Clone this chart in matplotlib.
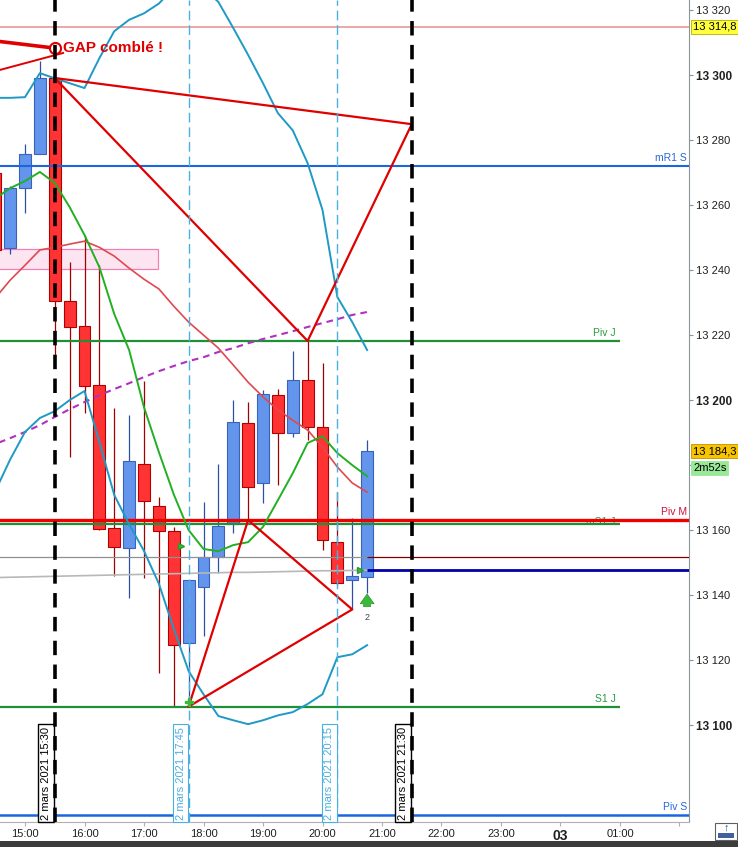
import numpy as np
import matplotlib.pyplot as plt
from matplotlib.patches import Rectangle

plt.rcParams['font.family'] = ['Liberation Sans', 'DejaVu Sans']

# 15 min candles, 2 March 2021
times = ["14:30", "14:45", "15:00", "15:15", "15:30", "15:45", "16:00", "16:15",
         "16:30", "16:45", "17:00", "17:15", "17:30", "17:45", "18:00", "18:15",
         "18:30", "18:45", "19:00", "19:15", "19:30", "19:45", "20:00", "20:15",
         "20:30", "20:45"]
opens = [13269.8, 13246.8, 13265.2, 13275.7, 13299.1, 13230.5, 13222.8, 13204.8,
         13160.5, 13154.4, 13180.2, 13167.5, 13159.6, 13125.4, 13142.4, 13151.6,
         13162.0, 13193.1, 13174.4, 13201.7, 13190.0, 13206.2, 13191.6, 13156.2,
         13144.6, 13145.6]
highs = [13272.0, 13266.0, 13278.8, 13304.3, 13301.0, 13242.5, 13250.8, 13241.5,
         13197.6, 13195.4, 13205.8, 13170.2, 13161.0, 13144.6, 13168.5, 13180.2,
         13200.0, 13199.3, 13203.0, 13203.4, 13215.1, 13218.2, 13211.5, 13171.8,
         13163.6, 13187.7]
lows = [13244.0, 13245.0, 13257.5, 13275.7, 13213.0, 13182.5, 13196.0, 13160.0,
        13145.8, 13139.0, 13145.3, 13116.0, 13105.6, 13105.7, 13127.5, 13146.9,
        13159.0, 13163.1, 13168.4, 13174.0, 13188.5, 13187.7, 13154.0, 13143.0,
        13135.6, 13140.7]
closes = [13246.2, 13265.2, 13275.7, 13299.1, 13230.5, 13222.6, 13204.4, 13160.2,
          13154.9, 13181.4, 13169.1, 13159.6, 13124.8, 13144.6, 13151.6, 13161.4,
          13193.4, 13173.3, 13202.0, 13190.0, 13206.2, 13191.6, 13157.1, 13143.6,
          13145.8, 13184.3]

# indicators, one value per candle
boll_up = [13293.0, 13293.0, 13293.2, 13300.6, 13299.0, 13297.5, 13296.0, 13305.2,
           13313.5, 13317.0, 13319.0, 13322.0, 13326.8, 13329.0, 13326.8, 13322.5,
           13314.5, 13306.2, 13297.5, 13288.3, 13283.0, 13272.9, 13258.5, 13231.7,
           13224.0, 13215.4]
boll_low = [13172.0, 13181.7, 13190.2, 13194.5, 13196.6, 13200.0, 13202.8, 13187.1,
            13170.8, 13161.8, 13153.6, 13143.5, 13129.7, 13116.6, 13109.5, 13102.8,
            13101.5, 13100.3, 13101.5, 13103.0, 13104.0, 13106.5, 13109.5, 13120.9,
            13121.8, 13124.6]
ma_green = [13262.0, 13265.2, 13267.4, 13270.2, 13266.8, 13259.4, 13250.8, 13240.9,
            13226.5, 13215.4, 13197.8, 13184.0, 13171.0, 13160.0, 13154.2, 13153.5,
            13155.4, 13156.3, 13161.0, 13169.2, 13177.5, 13186.8, 13188.9, 13183.7,
            13180.0, 13176.6]
ma_red = [13231.4, 13236.9, 13241.5, 13246.2, 13247.0, 13248.0, 13248.9, 13247.0,
          13244.3, 13240.6, 13237.2, 13234.2, 13228.9, 13224.0, 13220.0, 13216.0,
          13210.8, 13205.5, 13201.0, 13197.0, 13193.8, 13190.8, 13185.5, 13179.4,
          13174.5, 13171.7]
ma_purple = [13186.5, 13188.3, 13190.2, 13192.3, 13194.8, 13197.2, 13199.4, 13201.5,
             13203.4, 13205.2, 13207.1, 13208.9, 13210.5, 13212.0, 13213.2, 13214.8,
             13216.0, 13217.5, 13218.8, 13220.0, 13221.2, 13222.5, 13223.7, 13224.9,
             13226.2, 13227.1]
ma_gray = [13145.4, 13145.5, 13145.6, 13145.7, 13145.8, 13145.9, 13146.0, 13146.1,
           13146.2, 13146.3, 13146.4, 13146.5, 13146.6, 13146.7, 13146.8, 13146.9,
           13147.0, 13147.0, 13147.1, 13147.2, 13147.3, 13147.4, 13147.5, 13147.5,
           13147.6, 13147.7]

# pivot levels
level_names = ["mR1 S", "Piv J", "Piv M", "mS1 J", "S1 J", "Piv S"]
level_values = [13272.0, 13218.2, 13163.1, 13161.8, 13105.5, 13072.3]
level_colors = ["#1a66e0", "#1f9038", "#ee0000", "#1f9038", "#1f9038", "#1a66e0"]
level_text_colors = ["#2a66d8", "#2a9a40", "#d0103a", "#2a9a40", "#2a9a40", "#2a66d8"]
level_ends = [None, "25:00", None, "25:00", "25:00", None]
level_widths = [1.5, 1.6, 2.4, 1.6, 1.6, 1.8]

top_line = 13314.8
last_price = 13184.3
prev_close = 13151.7
entry_price = 13147.7

# harmonic drawing (time, price)
tri1_t = ["15:30", "19:45", "21:30", "15:30"]
tri1_p = [13299.1, 13218.2, 13284.9, 13299.1]
tri2_t = ["17:45", "18:45", "20:30", "17:45"]
tri2_p = [13105.7, 13163.1, 13135.6, 13105.7]

vlines_black = ["15:30", "21:30"]
vlines_blue = ["17:45", "20:15"]

xtick_hours = [15, 16, 17, 18, 19, 20, 21, 22, 23, 24, 25, 26]
xtick_labels = ["15:00", "16:00", "17:00", "18:00", "19:00", "20:00", "21:00",
                "22:00", "23:00", "03", "01:00", ""]
ytick_values = [13100, 13120, 13140, 13160, 13180, 13200, 13220, 13240, 13260,
                13280, 13300, 13320]


def hours(s):
    h, m = s.split(":")
    return int(h) + int(m) / 60


t = np.array([hours(s) for s in times])
o = np.array(opens)
c = np.array(closes)

W, H = 738, 847
fig = plt.figure(figsize=(W / 100, H / 100), dpi=100)
ax = fig.add_axes([0, 25 / H, 689 / W, 822 / H])
ax.set_xlim(14.5798, 26.1597)
ax.set_ylim(13070.2, 13323.1)

# pink zone
ax.add_patch(Rectangle((14.3, 13240.3), hours("17:14") - 14.3, 6.2,
                       facecolor="#fde4f1", edgecolor="#f080b8", lw=0.9, zorder=1))

# candles
up = c >= o
body_w = 0.2
for mask, fc, ec, wc in [(up, "#6495ed", "#3a62b8", "#2a50a8"),
                         (~up, "#ff3333", "#b00000", "#a00000")]:
    ax.vlines(t[mask], np.array(lows)[mask], np.array(highs)[mask], color=wc,
              lw=0.9, zorder=2)
    ax.bar(t[mask], np.abs(c - o)[mask], bottom=np.minimum(o, c)[mask],
           width=body_w, color=fc, edgecolor=ec, lw=0.8, zorder=3)

# horizontal levels
ax.axhline(top_line, color="#e89898", lw=1.2, zorder=4)
for name, val, col, tcol, end, lw in zip(level_names, level_values, level_colors,
                                          level_text_colors, level_ends, level_widths):
    xe = hours(end) if end else 26.2
    dy = -0.7 if name == "mS1 J" else 0.9
    ax.text(xe - 0.07, val + dy, name, color=tcol, fontsize=7.5,
            ha="right", va="bottom", zorder=4)
    ax.hlines(val, 14.0, xe, color=col, lw=lw, zorder=5)

ax.hlines(prev_close, 14.0, t[-1], color="#909090", lw=0.9, zorder=4)
ax.hlines(prev_close, t[-1], 26.2, color="#800000", lw=0.9, zorder=4)
ax.hlines(entry_price, t[-1], 26.2, color="#0000a8", lw=2.0, zorder=5)

# indicators
ax.plot(t, ma_gray, color="#b8b8b8", lw=1.2, zorder=4)
ax.plot(t, ma_purple, color="#b030c0", lw=1.5, ls=(0, (3.2, 2.4)), zorder=5)
ax.plot(t, ma_red, color="#e04850", lw=1.2, zorder=5)
ax.plot(t, ma_green, color="#22b022", lw=1.4, zorder=5)
ax.plot(t, boll_up, color="#1e9ac4", lw=1.4, zorder=5)
ax.plot(t, boll_low, color="#1e9ac4", lw=1.4, zorder=5)

# harmonic triangles
ax.plot([hours(s) for s in tri1_t], tri1_p, color="#e00000", lw=1.6, zorder=6)
ax.plot([hours(s) for s in tri2_t], tri2_p, color="#e00000", lw=1.6, zorder=6)

# gap lines
ax.plot([14.5, 15.5], [13310.5, 13308.3], color="#e00000", lw=2.6, zorder=6)
ax.plot([14.5, 15.64], [13301.2, 13306.8], color="#e00000", lw=1.4, zorder=6)
ax.plot([15.5], [13308.3], marker="o", ms=8, mfc="white", mec="#e00000", mew=1.5,
        zorder=7)
ax.text(15.64, 13308.3, "GAP comblé !", color="#e00000", fontsize=11,
        fontweight="bold", va="center", ha="left", zorder=7)

# vertical markers
xf = ax.get_xaxis_transform()
for s in vlines_black:
    ax.axvline(hours(s), color="black", lw=2.6, ls=(0, (4, 2.6)), zorder=8)
    ax.text(hours(s) - 0.06, 0.003, "2 mars 2021 " + s, rotation=90, transform=xf,
            ha="right", va="bottom", fontsize=8, color="black", zorder=7,
            bbox=dict(boxstyle="square,pad=0.25", fc="white", ec="black", lw=1))
for s in vlines_blue:
    ax.axvline(hours(s), color="#4ab0e0", lw=1.0, ls=(0, (7, 3.5)), zorder=6)
    ax.text(hours(s) - 0.05, 0.003, "2 mars 2021 " + s, rotation=90, transform=xf,
            ha="right", va="bottom", fontsize=8, color="#4ab0e0", zorder=7,
            bbox=dict(boxstyle="square,pad=0.25", fc="white", ec="#4ab0e0", lw=0.8))

# signal markers
ax.plot([17.62, 20.63], [13155.1, 13147.7], marker=">", ls="none", ms=5,
        color="#3cb83c", mec="#2a9a2a", zorder=8)
ax.plot([hours("17:45")], [13107.0], marker="P", ms=6, color="#3cb83c", zorder=8)
ax.annotate("", xy=(t[-1], 13141.2), xytext=(t[-1], 13135.6),
            arrowprops=dict(arrowstyle="simple,head_length=0.7,head_width=1.0,tail_width=0.5",
                            color="#3cb83c", ec="#2a9a2a", lw=0.5), zorder=8)
ax.text(t[-1], 13134.6, "2", fontsize=6.5, color="#444444", ha="center", va="top")

# axes styling
for side in ["left", "top"]:
    ax.spines[side].set_visible(False)
ax.spines["right"].set_color("#8a949a")
ax.spines["bottom"].set_color("#b0b0b0")
ax.yaxis.tick_right()
ax.set_yticks(ytick_values)
# 13 180 sits under the last price tag
ax.set_yticklabels(["" if v == 13180 else f"{v:,}".replace(",", " ")
                    for v in ytick_values])
ax.tick_params(axis="y", direction="out", length=3, pad=2, labelsize=8,
               colors="#8a949a", labelcolor="#202020")
for lab, v in zip(ax.get_yticklabels(), ytick_values):
    if v % 100 == 0:
        lab.set_fontweight("bold")
        lab.set_fontsize(8.5)
ax.set_xticks(xtick_hours)
ax.set_xticklabels(xtick_labels)
ax.tick_params(axis="x", direction="out", length=3, pad=2, labelsize=8,
               colors="#b0b0b0", labelcolor="#202020")
for lab, s in zip(ax.get_xticklabels(), xtick_labels):
    if s == "03":
        lab.set_fontweight("bold")
        lab.set_fontsize(10)

# price tags on the right
yf = ax.get_yaxis_transform()
ax.text(1.006, top_line, "13 314,8", transform=yf, fontsize=8, ha="left", va="center",
        clip_on=False, bbox=dict(boxstyle="square,pad=0.15", fc="#ffff3c", ec="#b0b000", lw=0.6))
ax.text(1.006, last_price, "13 184,3", transform=yf, fontsize=8, ha="left", va="center",
        clip_on=False, bbox=dict(boxstyle="square,pad=0.15", fc="#f8c400", ec="#c09000", lw=0.6))
ax.text(1.006, last_price - 5.2, "2m52s", transform=yf, fontsize=8, ha="left", va="center",
        clip_on=False, bbox=dict(boxstyle="square,pad=0.15", fc="#98e898", ec="#98e898", lw=0.6))

# bottom bar and corner button
fig.add_artist(Rectangle((0, 0), 1, 6 / H, transform=fig.transFigure,
                         fc="#3c3c3c", ec="none"))
fig.add_artist(Rectangle((715 / W, 7 / H), 22 / W, 17 / H, transform=fig.transFigure,
                         fc="white", ec="#606060", lw=0.8))
fig.add_artist(Rectangle((718 / W, 9 / H), 16 / W, 5 / H, transform=fig.transFigure,
                         fc="#4060a0", ec="none"))
fig.text(726 / W, 15 / H, "\u2191", color="#2050c0", fontsize=8, ha="center",
         va="bottom", fontweight="bold")

fig.savefig("out.png", dpi=100)
